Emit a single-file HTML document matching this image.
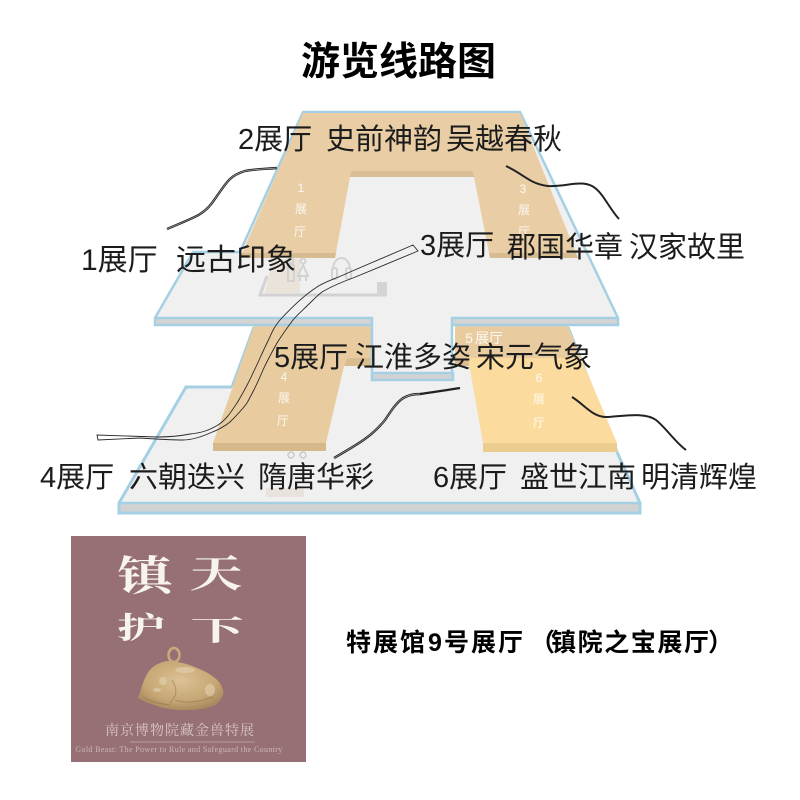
<!DOCTYPE html>
<html lang="zh"><head><meta charset="utf-8"><title>游览线路图</title>
<style>
html,body{margin:0;padding:0;background:#fff}
svg{display:block}
text{font-family:"Liberation Sans","Noto Sans CJK SC",sans-serif}
.l{font-size:29px;fill:#1c1c1c}
.w{font-size:12px;fill:#fff;text-anchor:middle;opacity:.85}
.s{font-family:"Liberation Serif","Noto Serif CJK SC",serif}
.b{font-size:25px;font-weight:700;fill:#000}
</style></head><body>
<svg width="800" height="800" viewBox="0 0 800 800" xmlns="http://www.w3.org/2000/svg">
<defs>
<radialGradient id="gold" cx="50%" cy="40%" r="65%"><stop offset="0" stop-color="#dcc294"/><stop offset=".65" stop-color="#c6a674"/><stop offset="1" stop-color="#a3835a"/></radialGradient>
</defs>
<text x="398.500" y="75" font-size="39" font-weight="700" text-anchor="middle" fill="#000">游览线路图</text>

<!-- lower floor -->
<polygon points="119,503 186,387 240,387 344,360 470,360 590,387 617,452 640,503 640,513 119,513" fill="#f0f0f0"/>
<rect x="119" y="503" width="521" height="10" fill="#d2d2d2"/>
<polyline points="232,387 186,387 119,503 119,513 640,513 640,503 617,452" fill="none" stroke="#a5d0e4" stroke-width="3"/>
<line x1="119" y1="503" x2="640" y2="503" stroke="#a5d0e4" stroke-width="2.500"/>
<line x1="254" y1="327" x2="232" y2="387" stroke="#a5d0e4" stroke-width="3"/>
<line x1="568" y1="327" x2="617" y2="452" stroke="#a5d0e4" stroke-width="3"/>

<!-- lower tan -->
<polygon points="254,326 373,326 373,358 347,358 344,366 326,443 213,443" fill="#e8cca0"/>
<polygon points="347,358 373,358 373,366 344,366" fill="#d9bd8e"/>
<polygon points="213,443 326,443 326,451 213,451" fill="#d6b98a"/>
<polygon points="455,326 568,326 581,358 455,358" fill="#e8cca0"/>
<polygon points="455,358 468,358 470,366 455,366" fill="#d9bd8e"/>
<polygon points="468,358 581,358 617,443 483,443" fill="#fcdc9e"/>
<polygon points="483,443 617,443 617,452 483,452" fill="#eccd90"/>

<!-- restroom icons lower -->
<g fill="none" stroke="#c8c8c8" stroke-width="1.400"><circle cx="291" cy="455" r="3"/><circle cx="303" cy="455" r="3"/></g>
<rect x="266" y="488" width="38" height="9" fill="#e8e4dd"/>

<!-- upper floor -->
<polygon points="303,112 520,112 618,318 618,325 452,325 452,378 372,378 372,325 155,325 155,318 193,252 240,252" fill="#f0f0f0"/>
<polygon points="155,318 373,318 373,325 155,325" fill="#d4d4d4"/>
<polygon points="452,318 618,318 618,325 452,325" fill="#d4d4d4"/>
<polygon points="372,374 453,374 453,380 372,380" fill="#d2d2d2"/>
<path d="M240,252H193L155,318V325H372V380H453V373H372M372,325V318H155M452,373V318H618M452,325H618V318L520,112H303L240,252" fill="none" stroke="#a5d0e4" stroke-width="2.500"/>

<!-- upper tan U -->
<polygon points="303,113 520,113 578,258 490,258 473,172 351,172 335,258 240,258" fill="#e9cea5"/>
<polygon points="351,171 473,171 474,177 350,177" fill="#d8bf97"/>
<polygon points="241,253 336,253 335,258 240,258" fill="#d6bc90"/>
<polygon points="489,253 576,253 578,258 490,258" fill="#d6bc90"/>

<!-- icons upper -->
<polygon points="272,259 300,259 300,293 265,293" fill="#e9e3da"/>
<g fill="none" stroke="#d2d2d2" stroke-width="2">
<path d="M267,276 L260,295 H386" stroke-width="3"/>
<path d="M333,270 C333,254 350,254 350,270"/>
<rect x="332" y="268" width="5" height="11" rx="2"/><rect x="346" y="268" width="5" height="11" rx="2"/>
<circle cx="303" cy="261" r="2.500"/><path d="M303,265 l-5,11 h10z M300,276 v5 M306,276 v5"/>
<circle cx="291" cy="261" r="2.500"/><path d="M288,265 h6 v16 h-6z"/>
</g>
<rect x="377" y="282" width="10" height="14" fill="#d4d4d4"/>

<!-- hall labels -->
<text class="w" x="301" y="192">1</text><text class="w" x="301" y="213">展</text><text class="w" x="300" y="236">厅</text>
<text class="w" x="523" y="193">3</text><text class="w" x="524" y="214">展</text><text class="w" x="524" y="236">厅</text>
<text class="w" x="284" y="381">4</text><text class="w" x="284" y="402">展</text><text class="w" x="283" y="425">厅</text>
<text class="w" x="469" y="343" style="font-size:14px">5</text><text class="w" x="489" y="343" style="font-size:14px">展厅</text>
<text class="w" x="539" y="382">6</text><text class="w" x="539" y="403">展</text><text class="w" x="539" y="427">厅</text>

<!-- connectors -->
<g fill="none" stroke-linecap="butt">
<path d="M167,229 C195,217 203,215 212,203 C226,184 228,176 245,171 C255,169 265,169 277,168" stroke="#222" stroke-width="2.400"/>
<path d="M167,229 C195,217 203,215 212,203 C226,184 228,176 245,171 C255,169 265,169 277,168" stroke="#aaa" stroke-width=".7"/>
<path d="M506,166 C525,175 530,184 548,186 C565,187 580,180 592,186 C603,192 608,207 619,219" stroke="#222" stroke-width="2"/>
<path d="M334,458 C360,443 372,436 385,420 C397,402 402,394 420,394 C435,392 447,390 460,388" stroke="#222" stroke-width="2.400"/>
<path d="M334,458 C360,443 372,436 385,420 C397,402 402,394 420,394" stroke="#aaa" stroke-width=".7"/>
<path d="M572,397 C585,405 593,418 608,417 C625,416 645,412 656,420 C666,428 676,443 686,450" stroke="#222" stroke-width="2"/>
<path d="M413,245 L350,272 C335,279 324,282 317,287 C303,296 291,308 280,320 C272,330 272,333 267,343 C262,353 258,363 253,373 C248,384 243,393 237,403 C231,412 226,420 218,425 C208,431 200,433 190,434 C180,436 170,437 157,437 L97,435 L98,440 L140,438 C155,439 170,440 183,440 C192,440 201,437 210,433 C218,430 224,427 230,422 C237,415 242,410 247,403 C252,394 258,382 263,370 C267,361 272,352 277,343 C282,335 287,328 293,320 C296,316 304,309 310,303 C314,299 318,295 322,292 C332,286 342,282 353,278 L418,251 Z" stroke="#2a2a2a" stroke-width=".9"/>
</g>

<!-- callouts -->
<text class="l" x="238" y="149">2展厅</text><text class="l" x="326" y="149">史前神韵</text><text class="l" x="446" y="149">吴越春秋</text>
<text class="l" x="81" y="270" style="font-size:30px">1展厅</text><text class="l" x="176" y="270" style="font-size:30px">远古印象</text>
<text class="l" x="420" y="255">3展厅</text><text class="l" x="507" y="257">郡国华章</text><text class="l" x="629" y="257">汉家故里</text>
<text class="l" x="274" y="367">5展厅</text><text class="l" x="355" y="367">江淮多姿</text><text class="l" x="476" y="367">宋元气象</text>
<text class="l" x="40" y="487">4展厅</text><text class="l" x="129" y="487">六朝迭兴</text><text class="l" x="258" y="487">隋唐华彩</text>
<text class="l" x="433" y="487">6展厅</text><text class="l" x="520" y="487">盛世江南</text><text class="l" x="641" y="487">明清辉煌</text>

<!-- poster -->
<rect x="71" y="536" width="235" height="226" fill="#967074"/>
<g fill="#f7f3ee" font-weight="700" text-anchor="middle">
<text class="s" transform="translate(145,590) scale(1.15,.85)" font-size="48">镇</text>
<text class="s" transform="translate(216,587) scale(1.1,.8)" font-size="48">天</text>
<text class="s" transform="translate(141,638) scale(1,.62)" font-size="48">护</text>
<text class="s" transform="translate(217,640) scale(1.1,.58)" font-size="48">下</text>
</g>
<ellipse cx="174" cy="655" rx="5.500" ry="7" fill="none" stroke="#c9aa7a" stroke-width="2.500"/>
<path d="M138,698 C141,690 142,685 143,683 C146,675 149,670 153,667 C160,662 165,661 170,661 C182,662 190,665 197,668 C208,672 216,678 220,683 C224,690 224,694 222,697 C219,703 215,706 210,707 C200,710 192,710 183,710 C175,710 167,709 160,707 C152,704 144,702 138,698Z" fill="url(#gold)"/>
<g fill="#e6d6b4" opacity=".55"><ellipse cx="163" cy="681" rx="4" ry="4"/><ellipse cx="210" cy="690" rx="5" ry="6"/><ellipse cx="157" cy="690" rx="4" ry="2"/><ellipse cx="185" cy="670" rx="10" ry="3"/></g>
<g fill="none" stroke="#8e6f4c" stroke-width="1.100" opacity=".5"><path d="M175,700 C190,705 205,700 213,697"/><path d="M172,680 C178,690 177,695 170,703"/><path d="M143,697 C150,701 160,704 170,705"/></g>
<text class="s" x="180" y="735" font-size="14" fill="#d9c7c4" text-anchor="middle" letter-spacing="1">南京博物院藏金兽特展</text>
<line x1="130" y1="742" x2="255" y2="742" stroke="#b89a9c" stroke-width="1"/>
<text class="s" x="179" y="752" font-size="8" fill="#cdb8b6" text-anchor="middle" letter-spacing=".35">Gold Beast: The Power to Rule and Safeguard the Country</text>

<text class="b" x="346" y="651" letter-spacing="2">特展馆</text>
<text class="b" x="428" y="651">9</text>
<text class="b" x="444" y="651" letter-spacing="2">号展厅</text>
<text class="b" x="530" y="651">（</text>
<text class="b" x="551" y="651" letter-spacing="1.600">镇院之宝展厅</text>
<text class="b" x="708" y="651">）</text>
</svg>
</body></html>
